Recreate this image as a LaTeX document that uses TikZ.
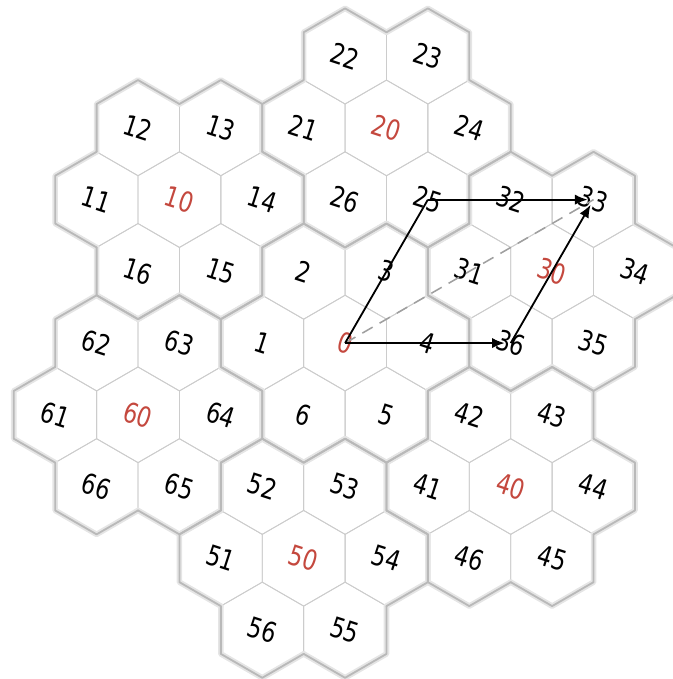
\documentclass[tikz,border=0pt]{standalone}
\usepackage{fontspec}
\setsansfont{DejaVu Sans}
\usepackage{xcolor}
\usetikzlibrary{arrows.meta,calc}
\definecolor{cellred}{RGB}{196,72,62}

\begin{document}
\begin{tikzpicture}[
    >=Latex,
    hexedge/.style={draw=gray!40, line width=0.6pt},
    clustershade/.style={draw=gray!20, line width=4pt, line cap=round, line join=round},
    clusteredge/.style={draw=gray!55, line width=1.3pt, line cap=round, line join=round},
    lbl/.style={font=\sffamily\fontsize{20}{20}\selectfont, rotate=-18, inner sep=0pt},
    vec/.style={-{Latex[length=3.2mm,width=2.6mm]}, line width=1.3pt, shorten >=1.5mm}
]
\def\R{1.2}
\def\hx{2.0785}
\def\hy{1.8}
\useasboundingbox (-8.66,-8.43) rectangle (8.21,8.61);

% thin cell borders
\foreach \p/\q in {0/0,-3/2,-1/3,2/1,3/-2,1/-3,-2/-1}{
  \foreach \u/\v in {0/0,-1/0,-1/1,0/1,1/0,1/-1,0/-1}{
    \draw[hexedge] ({(\p+\u)*\hx+(\q+\v)*\hx/2},{(\q+\v)*\hy})
      +(30:\R) -- +(90:\R) -- +(150:\R) -- +(210:\R) -- +(270:\R) -- +(330:\R) -- cycle;
  }
}

% cluster outlines
\foreach \sty in {clustershade,clusteredge}{
  \foreach \p/\q in {0/0,-3/2,-1/3,2/1,3/-2,1/-3,-2/-1}{
    \foreach \t in {0,60,...,300}{
      \draw[\sty] ({\p*\hx+\q*\hx/2},{\q*\hy}) ++(\t:\hx)
        +({\t-90}:\R) -- +({\t-30}:\R) -- +({\t+30}:\R) -- +({\t+90}:\R);
    }
  }
}

% cell numbers
\foreach \cl/\p/\q in {0/0/0,10/-3/2,20/-1/3,30/2/1,40/3/-2,50/1/-3,60/-2/-1}{
  \node[lbl, text=cellred] (c\cl) at ({\p*\hx+\q*\hx/2},{\q*\hy}) {\scalebox{0.8}[1]{\cl}};
  \foreach \k/\u/\v in {1/-1/0,2/-1/1,3/0/1,4/1/0,5/1/-1,6/0/-1}{
    \pgfmathtruncatemacro{\n}{\cl+\k}
    \node[lbl] (c\n) at ({(\p+\u)*\hx+(\q+\v)*\hx/2},{(\q+\v)*\hy}) {\scalebox{0.8}[1]{\n}};
  }
}

% vectors
\draw[gray!75, line width=1.1pt, dash pattern=on 3mm off 2mm] (c0.center) -- (c33.center);
\draw[line width=1.3pt] (c0.center) -- (c25.center);
\draw[vec] (c25.center) -- (c33.center);
\draw[vec] (c0.center) -- (c36.center);
\draw[vec] (c36.center) -- (c33.center);
\end{tikzpicture}
\end{document}
